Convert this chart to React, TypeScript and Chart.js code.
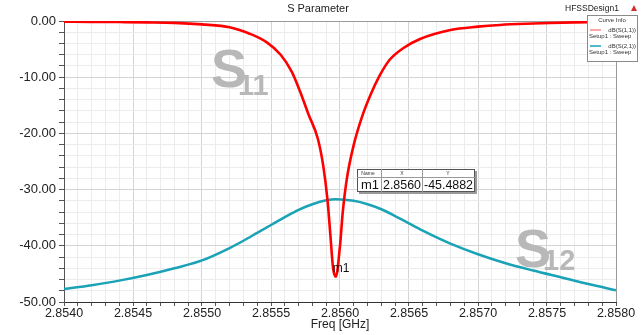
import { useEffect, useRef } from 'react';
import { Chart, registerables } from 'chart.js';

Chart.register(...registerables);

// ---- data ----
const s11Freq = [2.854, 2.8542, 2.8544, 2.8546, 2.8548, 2.855, 2.8552, 2.85535, 2.85547, 2.85557, 2.85565, 2.85571, 2.85577, 2.85584, 2.85588, 2.85591, 2.85593, 2.85595, 2.85597, 2.856, 2.85602, 2.85605, 2.8561, 2.85616, 2.85622, 2.85629, 2.85636, 2.85646, 2.85658, 2.8568, 2.857, 2.85716, 2.8574, 2.85752, 2.8577, 2.858];
const s11Db = [-0.12, -0.15, -0.19, -0.24, -0.33, -0.6, -1.1, -2.3, -3.8, -6.0, -9.0, -12.5, -16.5, -21.0, -26.0, -32.0, -38.0, -44.0, -45.49, -40.0, -34.0, -28.0, -22.0, -17.0, -13.2, -9.6, -6.9, -4.8, -3.2, -1.6, -1.0, -0.7, -0.45, -0.35, -0.25, -0.14];

const s21Freq = [2.854, 2.8542, 2.8544, 2.8546, 2.8548, 2.855, 2.8552, 2.8553, 2.8554, 2.8555, 2.8556, 2.8557, 2.8558, 2.8559, 2.85597, 2.8561, 2.8562, 2.8563, 2.8564, 2.8565, 2.8566, 2.8567, 2.8568, 2.857, 2.8572, 2.8574, 2.8576, 2.8578, 2.858];
const s21Db = [-47.7, -47.0, -46.2, -45.2, -44.0, -42.6, -40.4, -39.1, -37.7, -36.3, -34.9, -33.6, -32.6, -31.9, -31.7, -32.0, -32.6, -33.5, -34.7, -36.0, -37.3, -38.5, -39.6, -41.5, -43.1, -44.4, -45.6, -46.8, -47.9];

const xMin = 2.854;
const xMax = 2.858;
const xStep = 0.0001;
const yMin = -50;
const yMax = 0;
const yStep = 2;

const markerName = 'm1';
const markerX = 2.85597;
const markerXText = '2.8560';
const markerYText = '-45.4882';
const markerY = -45.4882;

const titleText = 'S Parameter';
const designText = 'HFSSDesign1';
const xTitle = 'Freq [GHz]';
const legendItems = [
  { name: 'dB(S(1,1))', sub: 'Setup1 : Sweep', color: '#ff8a8a' },
  { name: 'dB(S(2,1))', sub: 'Setup1 : Sweep', color: '#1aa2b6' },
];

const FONT = '"Liberation Sans", Arial, sans-serif';

const overlay = {
  id: 'overlay',
  beforeDatasetsDraw(chart: any) {
    const ctx = chart.ctx;
    ctx.save();
    ctx.fillStyle = '#b8b8b8';
    ctx.textBaseline = 'alphabetic';
    ctx.textAlign = 'left';
    ctx.font = `bold 54px ${FONT}`;
    ctx.fillText('S', 211, 87);
    ctx.font = `bold 29px ${FONT}`;
    ctx.fillText('11', 238, 95);
    ctx.font = `bold 54px ${FONT}`;
    ctx.fillText('S', 515, 267);
    ctx.font = `bold 29px ${FONT}`;
    ctx.fillText('12', 543, 270);
    ctx.restore();
  },
  afterDraw(chart: any) {
    const ctx = chart.ctx;
    const xs = chart.scales.x;
    const ys = chart.scales.y;
    ctx.save();
    ctx.fillStyle = '#222';
    ctx.font = `11px ${FONT}`;
    ctx.textAlign = 'center';
    ctx.textBaseline = 'middle';
    ctx.fillText(titleText, 318, 9);
    ctx.textAlign = 'left';
    ctx.font = `8.5px ${FONT}`;
    ctx.fillText(designText, 565, 9);
    ctx.fillStyle = '#d03030';
    ctx.beginPath();
    ctx.moveTo(631, 11);
    ctx.lineTo(637, 11);
    ctx.lineTo(634, 5);
    ctx.closePath();
    ctx.fill();

    ctx.fillStyle = '#222';
    ctx.font = `12px ${FONT}`;
    ctx.textAlign = 'center';
    ctx.fillText(xTitle, (xs.left + xs.right) / 2, 325);

    // legend box
    const lx = 587, ly = 15, lw = 50, lh = 46;
    ctx.fillStyle = '#ffffff';
    ctx.fillRect(lx, ly, lw, lh);
    ctx.strokeStyle = '#8a8a8a';
    ctx.lineWidth = 1;
    ctx.strokeRect(lx + 0.5, ly + 0.5, lw, lh);
    ctx.fillStyle = '#333';
    ctx.font = `6px ${FONT}`;
    ctx.textAlign = 'center';
    ctx.fillText('Curve Info', lx + lw / 2, ly + 5);
    legendItems.forEach((it, i) => {
      const y0 = ly + 15 + i * 16;
      ctx.strokeStyle = it.color;
      ctx.lineWidth = 1.5;
      ctx.beginPath();
      ctx.moveTo(lx + 3, y0);
      ctx.lineTo(lx + 14, y0);
      ctx.stroke();
      ctx.fillStyle = '#333';
      ctx.textAlign = 'right';
      ctx.fillText(it.name, lx + lw - 1, y0, 33);
      ctx.textAlign = 'left';
      ctx.fillText(it.sub, lx + 2, y0 + 6, lw - 3);
    });

    // marker label
    const mx = xs.getPixelForValue(markerX);
    const my = ys.getPixelForValue(markerY);
    ctx.fillStyle = '#111';
    ctx.font = `12px ${FONT}`;
    ctx.textAlign = 'left';
    ctx.fillText(markerName, mx - 3, my - 8);

    // marker table
    const tx = 357, ty = 169, tw = 118, th = 23;
    ctx.fillStyle = '#9a9a9a';
    ctx.fillRect(tx + 2, ty + 2, tw, th);
    ctx.fillStyle = '#ffffff';
    ctx.fillRect(tx, ty, tw, th);
    ctx.strokeStyle = '#555';
    ctx.lineWidth = 1;
    ctx.strokeRect(tx + 0.5, ty + 0.5, tw - 1, th - 1);
    ctx.strokeStyle = '#999';
    ctx.beginPath();
    ctx.moveTo(tx, ty + 8.5);
    ctx.lineTo(tx + tw, ty + 8.5);
    ctx.moveTo(381.5, ty);
    ctx.lineTo(381.5, ty + th);
    ctx.moveTo(422.5, ty);
    ctx.lineTo(422.5, ty + th);
    ctx.stroke();
    ctx.fillStyle = '#333';
    ctx.font = `5px ${FONT}`;
    ctx.textAlign = 'center';
    ctx.fillText('Name', 368, ty + 4.5);
    ctx.fillText('X', 402, ty + 4.5);
    ctx.fillText('Y', 448, ty + 4.5);
    ctx.fillStyle = '#111';
    ctx.font = `13px ${FONT}`;
    ctx.textAlign = 'left';
    ctx.fillText(markerName, 361, ty + 16, 19);
    ctx.fillText(markerXText, 383, ty + 16, 38);
    ctx.fillText(markerYText, 424, ty + 16, 49);
    ctx.restore();
  },
};

export default function App() {
  const ref = useRef<HTMLCanvasElement | null>(null);
  useEffect(() => {
    document.body.style.margin = '0';
    const canvas = ref.current;
    if (!canvas) return;
    const chart = new Chart(canvas, {
      type: 'line',
      data: {
        datasets: [
          {
            label: 'dB(S(1,1))',
            data: s11Freq.map((f, i) => ({ x: f, y: s11Db[i] })),
            borderColor: '#ff0000',
            borderWidth: 2.6,
            pointRadius: 0,
            cubicInterpolationMode: 'monotone',
            fill: false,
          },
          {
            label: 'dB(S(2,1))',
            data: s21Freq.map((f, i) => ({ x: f, y: s21Db[i] })),
            borderColor: '#1aa2b6',
            borderWidth: 2.5,
            pointRadius: 0,
            cubicInterpolationMode: 'monotone',
            fill: false,
          },
        ],
      },
      options: {
        responsive: false,
        animation: false,
        maintainAspectRatio: false,
        layout: { padding: { left: 0, right: 28, top: 21, bottom: 0 } },
        plugins: {
          legend: { display: false },
          title: { display: false },
          tooltip: { enabled: false },
        },
        scales: {
          x: {
            type: 'linear',
            min: xMin,
            max: xMax,
            afterFit: (s: any) => { s.height = 33; },
            border: { color: '#333', width: 1 },
            grid: {
              color: (c: any) => {
                const k = Math.round((c.tick.value - xMin) / xStep);
                if (k === 40) return '#9a9a9a';
                return k % 5 === 0 ? '#d4d4d4' : '#ececec';
              },
              tickColor: '#555',
              tickLength: 4,
            },
            ticks: {
              stepSize: xStep,
              autoSkip: false,
              maxRotation: 0,
              padding: 0,
              color: '#222',
              font: { family: FONT, size: 12.5 },
              callback: (v: any) => {
                const k = Math.round((Number(v) - xMin) / xStep);
                return k % 5 === 0 ? Number(v).toFixed(4) : '';
              },
            },
          },
          y: {
            type: 'linear',
            min: yMin,
            max: yMax,
            afterFit: (s: any) => { s.width = 64; },
            border: { color: '#555', width: 1 },
            grid: {
              color: (c: any) => {
                const v = c.tick.value;
                if (v === 0) return '#9a9a9a';
                return v % 10 === 0 ? '#d4d4d4' : '#ececec';
              },
              tickColor: '#555',
              tickLength: 5,
            },
            ticks: {
              stepSize: yStep,
              autoSkip: false,
              padding: 3,
              color: '#222',
              font: { family: FONT, size: 13 },
              callback: (v: any) => (Number(v) % 10 === 0 ? Number(v).toFixed(2) : ''),
            },
          },
        },
      },
      plugins: [overlay],
    });
    return () => chart.destroy();
  }, []);
  return (
    <div style={{ width: 644, height: 335, background: '#fff' }}>
      <canvas ref={ref} width={644} height={335} style={{ display: 'block' }} />
    </div>
  );
}
